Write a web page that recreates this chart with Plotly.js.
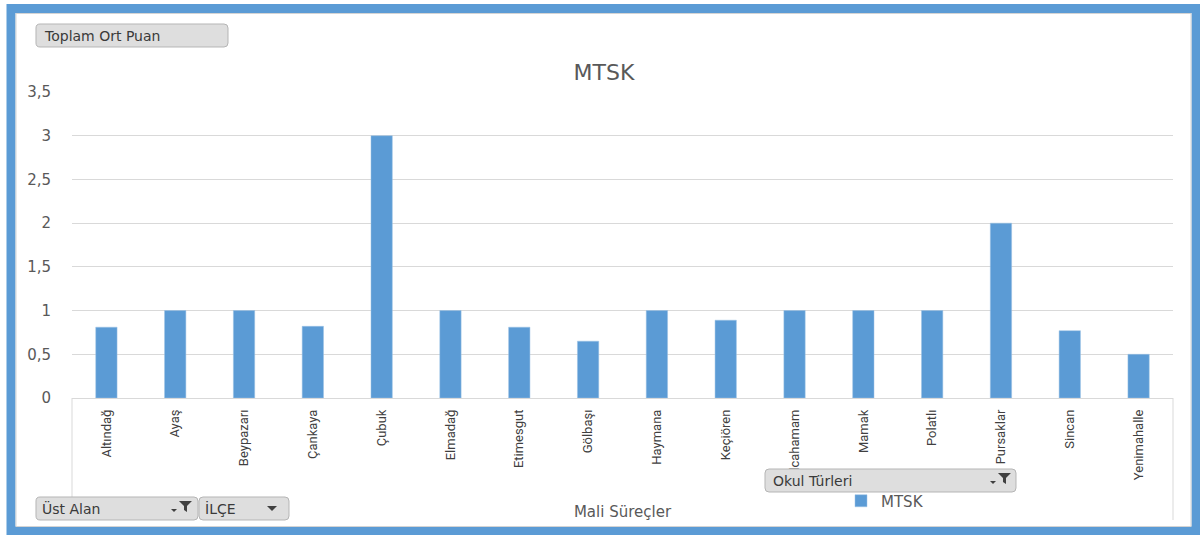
<!DOCTYPE html>
<html>
<head>
<meta charset="utf-8">
<script src="https://cdn.plot.ly/plotly-3.0.1.min.js"></script>
<style>
  html, body { margin: 0; padding: 0; background: #ffffff; }
  #chart { width: 1200px; height: 535px; }
</style>
</head>
<body>
<div id="chart"></div>
<script>
// ---- data ----
const categories = ["Altındağ","Ayaş","Beypazarı","Çankaya","Çubuk","Elmadağ","Etimesgut","Gölbaşı","Haymana","Keçiören","Kızılcahamam","Mamak","Polatlı","Pursaklar","Sincan","Yenimahalle"];
const values = [0.81, 1, 1, 0.82, 3, 1, 0.81, 0.65, 1, 0.89, 1, 1, 1, 2, 0.77, 0.5];
const seriesName = "MTSK";
const chartTitle = "MTSK";
const xTitle = "Mali Süreçler";
const yTickValues = [0, 0.5, 1, 1.5, 2, 2.5, 3, 3.5];
const fieldButtons = ["Toplam Ort Puan", "Üst Alan", "İLÇE", "Okul Türleri"];

// ---- geometry helpers (pixel -> paper) ----
const L = 72, R = 1173, T = 92, B = 398;
const W = R - L, H = B - T;
const fx = x => (x - L) / W;
const fy = y => (B - y) / H;
const P = (x, y) => fx(x).toFixed(5) + "," + fy(y).toFixed(5);

function rrect(x0, y0, x1, y1, r) {
  return "M" + P(x0 + r, y0) + " L" + P(x1 - r, y0) + " Q" + P(x1, y0) + " " + P(x1, y0 + r) +
    " L" + P(x1, y1 - r) + " Q" + P(x1, y1) + " " + P(x1 - r, y1) +
    " L" + P(x0 + r, y1) + " Q" + P(x0, y1) + " " + P(x0, y1 - r) +
    " L" + P(x0, y0 + r) + " Q" + P(x0, y0) + " " + P(x0 + r, y0) + " Z";
}
function funnel(x, y) {
  return "M" + P(x, y) + " L" + P(x + 13, y) + " L" + P(x + 8, y + 5) + " L" + P(x + 8, y + 11) +
    " L" + P(x + 5, y + 9) + " L" + P(x + 5, y + 5) + " Z";
}
function tri(x, y, w, h) {
  return "M" + P(x, y) + " L" + P(x + w, y) + " L" + P(x + w / 2, y + h) + " Z";
}

const btnFill = "#dedede", btnLine = "#b5b5b5", iconCol = "#404040";
const shapes = [];
const annotations = [];

function addButton(x0, y0, x1, y1, label, tx) {
  shapes.push({type: "path", xref: "paper", yref: "paper", path: rrect(x0, y0, x1, y1, 4),
    fillcolor: btnFill, line: {color: btnLine, width: 1}, layer: "above"});
  annotations.push({xref: "paper", yref: "paper", x: fx(tx), y: fy((y0 + y1) / 2),
    xanchor: "left", yanchor: "middle", showarrow: false, text: label,
    font: {family: "DejaVu Sans, Open Sans, sans-serif", size: 14, color: "#3a3a3a"}});
}

// category box lines
shapes.push({type: "line", xref: "paper", yref: "paper", x0: 0, x1: 0, y0: fy(B), y1: fy(520), line: {color: "#d9d9d9", width: 1}});
shapes.push({type: "line", xref: "paper", yref: "paper", x0: 1, x1: 1, y0: fy(B), y1: fy(520), line: {color: "#d9d9d9", width: 1}});

// outer frame
shapes.push({type: "rect", xref: "paper", yref: "paper", x0: fx(11), x1: fx(1196), y0: fy(8.5), y1: fy(531),
  line: {color: "#5b9bd5", width: 9}, fillcolor: "rgba(0,0,0,0)", layer: "above"});
shapes.push({type: "rect", xref: "paper", yref: "paper", x0: fx(16), x1: fx(1191), y0: fy(13.5), y1: fy(526.5),
  line: {color: "#d4d4d4", width: 1}, fillcolor: "rgba(0,0,0,0)", layer: "above"});

// field buttons
addButton(36, 24, 228, 47, fieldButtons[0], 42);
addButton(36, 497, 198, 520, fieldButtons[1], 40);
addButton(199, 497, 289, 520, fieldButtons[2], 203);
addButton(765, 469, 1016, 492, fieldButtons[3], 771);

// icons
shapes.push({type: "path", xref: "paper", yref: "paper", path: funnel(179, 501), fillcolor: iconCol, line: {width: 0}, layer: "above"});
shapes.push({type: "path", xref: "paper", yref: "paper", path: tri(171, 509, 6, 3), fillcolor: iconCol, line: {width: 0}, layer: "above"});
shapes.push({type: "path", xref: "paper", yref: "paper", path: tri(267, 506, 10, 5), fillcolor: iconCol, line: {width: 0}, layer: "above"});
shapes.push({type: "path", xref: "paper", yref: "paper", path: funnel(998, 473), fillcolor: iconCol, line: {width: 0}, layer: "above"});
shapes.push({type: "path", xref: "paper", yref: "paper", path: tri(990, 481, 6, 3), fillcolor: iconCol, line: {width: 0}, layer: "above"});

const trace = {
  type: "bar",
  x: categories,
  y: values,
  name: seriesName,
  marker: {color: "#5b9bd5", line: {color: "#9cc2e5", width: 0.5}},
  showlegend: true
};

const layout = {
  width: 1200, height: 535,
  margin: {l: L, r: 1200 - R, t: T, b: 535 - B, pad: 0},
  paper_bgcolor: "#ffffff", plot_bgcolor: "#ffffff",
  separators: ",.",
  bargap: 0.69,
  title: {text: chartTitle, xref: "container", yref: "container", x: 604 / 1200, y: 1 - 72.5 / 535,
    xanchor: "center", yanchor: "middle",
    font: {family: "DejaVu Sans, Open Sans, sans-serif", size: 22, color: "#595959"}},
  xaxis: {
    type: "category", tickangle: -90, automargin: false,
    tickfont: {family: "Roboto, sans-serif", size: 13, color: "#404040"},
    showgrid: false, showline: false, zeroline: false, ticks: "", ticklabelstandoff: 8,
    title: {text: xTitle, standoff: 15, font: {family: "DejaVu Sans, Open Sans, sans-serif", size: 15, color: "#595959"}}
  },
  yaxis: {
    range: [0, 3.5], tickvals: yTickValues, tickformat: ",.1~f", automargin: false,
    showgrid: true, gridcolor: "#d9d9d9", gridwidth: 1, zeroline: true, zerolinecolor: "#d9d9d9", zerolinewidth: 1,
    showline: false, ticks: "", ticklabelstandoff: 20,
    tickfont: {family: "DejaVu Sans, Open Sans, sans-serif", size: 15, color: "#595959"}
  },
  legend: {x: fx(841), xanchor: "left", y: fy(501), yanchor: "middle", orientation: "h",
    bgcolor: "rgba(0,0,0,0)", borderwidth: 0,
    font: {family: "DejaVu Sans, Open Sans, sans-serif", size: 15, color: "#595959"}},
  shapes: shapes,
  annotations: annotations
};

Plotly.newPlot("chart", [trace], layout, {displayModeBar: false, staticPlot: true});
</script>
</body>
</html>
